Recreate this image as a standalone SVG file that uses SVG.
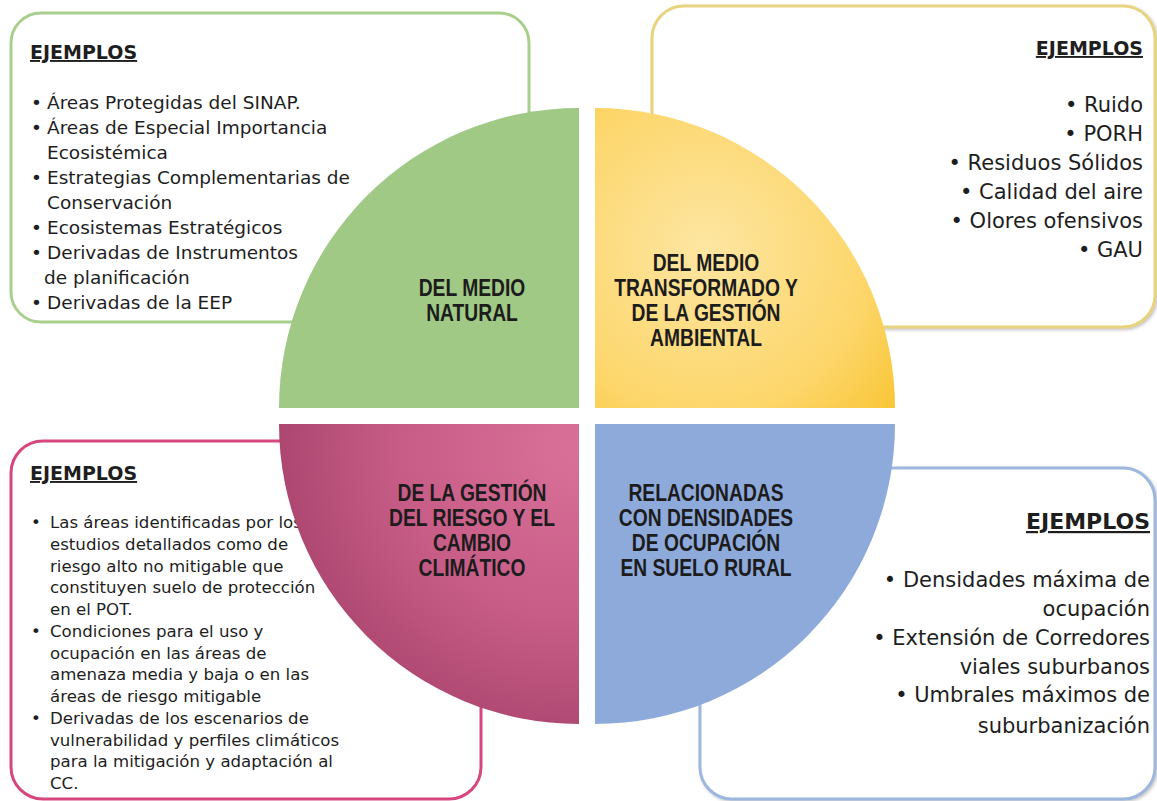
<svg xmlns="http://www.w3.org/2000/svg" width="1157" height="801" viewBox="0 0 1157 801">
  <defs>
    <radialGradient id="gYellow" gradientUnits="userSpaceOnUse" cx="705" cy="250" r="300">
      <stop offset="0" stop-color="#fde6a2"/>
      <stop offset="0.55" stop-color="#fdd66a"/>
      <stop offset="1" stop-color="#f6bb14"/>
    </radialGradient>
    <radialGradient id="gPink" gradientUnits="userSpaceOnUse" cx="570" cy="450" r="340">
      <stop offset="0" stop-color="#d97098"/>
      <stop offset="0.5" stop-color="#c75d86"/>
      <stop offset="1" stop-color="#a23e68"/>
    </radialGradient>
    <filter id="shadow" x="-5%" y="-5%" width="110%" height="110%">
      <feDropShadow dx="1.5" dy="1.5" stdDeviation="1.5" flood-color="#7a7a7a" flood-opacity="0.45"/>
    </filter>
  </defs>
  <style>
    .box { fill: #ffffff; stroke-width: 3; }
    .body { font-family: "DejaVu Sans", "Liberation Sans", sans-serif; fill: #1e1e1e; }
    .head { font-family: "DejaVu Sans", "Liberation Sans", sans-serif; font-weight: bold; fill: #1e1e1e; text-decoration: underline; }
    .quad { font-family: "Liberation Sans", Arial, sans-serif; font-weight: bold; font-size: 23.5px; fill: #1c1c1c; text-anchor: middle; }
    .tl { font-size: 18.5px; }
    .tr { font-size: 21px; text-anchor: end; }
    .bl { font-size: 16.6px; }
    .br { font-size: 21px; text-anchor: end; }
  </style>

  <g id="connectors"/>

  <!-- Example boxes -->
  <g id="box-natural">
    <rect class="box" x="11" y="13" width="518" height="309" rx="30" stroke="#a8d08c"/>
    <text class="head" x="30" y="59" font-size="19">EJEMPLOS</text>
    <g class="body tl">
      <text x="31" y="109">•</text><text x="47" y="109">Áreas Protegidas del SINAP.</text>
      <text x="31" y="134">•</text><text x="47" y="134">Áreas de Especial Importancia</text>
      <text x="47" y="159">Ecosistémica</text>
      <text x="31" y="184">•</text><text x="47" y="184">Estrategias Complementarias de</text>
      <text x="47" y="209">Conservación</text>
      <text x="31" y="234">•</text><text x="47" y="234">Ecosistemas Estratégicos</text>
      <text x="31" y="259">•</text><text x="47" y="259">Derivadas de Instrumentos</text>
      <text x="44" y="284">de planificación</text>
      <text x="31" y="309">•</text><text x="47" y="309">Derivadas de la EEP</text>
    </g>
  </g>

  <g id="box-transformado">
    <rect class="box" x="652" y="6" width="503" height="321" rx="32" stroke="#e8d47e" filter="url(#shadow)"/>
    <text class="head" x="1143" y="55" font-size="19" text-anchor="end">EJEMPLOS</text>
    <g class="body tr">
      <text x="1143" y="112">•  Ruido</text>
      <text x="1143" y="141">•  PORH</text>
      <text x="1143" y="170">•  Residuos Sólidos</text>
      <text x="1143" y="199">•  Calidad del aire</text>
      <text x="1143" y="228">•  Olores ofensivos</text>
      <text x="1143" y="257">•  GAU</text>
    </g>
  </g>

  <g id="box-riesgo">
    <rect class="box" x="11" y="441" width="470" height="358" rx="32" stroke="#d6477f"/>
    <text class="head" x="30" y="480" font-size="19">EJEMPLOS</text>
    <g class="body bl">
      <text x="31" y="528">•</text><text x="50" y="528">Las áreas identificadas por los</text>
      <text x="50" y="550">estudios detallados como de</text>
      <text x="50" y="571.5">riesgo alto no mitigable que</text>
      <text x="50" y="593">constituyen suelo de protección</text>
      <text x="50" y="615">en el POT.</text>
      <text x="31" y="637">•</text><text x="50" y="637">Condiciones para el uso y</text>
      <text x="50" y="658.5">ocupación en las áreas de</text>
      <text x="50" y="680">amenaza media y baja o en las</text>
      <text x="50" y="702">áreas de riesgo mitigable</text>
      <text x="31" y="724">•</text><text x="50" y="724">Derivadas de los escenarios de</text>
      <text x="50" y="745.5">vulnerabilidad y perfiles climáticos</text>
      <text x="50" y="767">para la mitigación y adaptación al</text>
      <text x="50" y="789">CC.</text>
    </g>
  </g>

  <g id="box-densidades">
    <rect class="box" x="700" y="468" width="455" height="331" rx="32" stroke="#9db7de" filter="url(#shadow)"/>
    <text class="head" x="1150" y="529" font-size="22" text-anchor="end">EJEMPLOS</text>
    <g class="body br">
      <text x="1150" y="587">•  Densidades máxima de</text>
      <text x="1150" y="616">ocupación</text>
      <text x="1150" y="645">•  Extensión de Corredores</text>
      <text x="1150" y="674">viales suburbanos</text>
      <text x="1150" y="702">•  Umbrales máximos de</text>
      <text x="1150" y="733">suburbanización</text>
    </g>
  </g>

  <!-- Quadrants -->
  <g id="quad-natural">
    <path d="M579,408 L279,408 A300,300 0 0 1 579,108 Z" fill="#a0c985"/>
    <g transform="translate(472,0) scale(0.82,1)">
      <text class="quad" x="0" y="296">DEL MEDIO</text>
      <text class="quad" x="0" y="321">NATURAL</text>
    </g>
  </g>
  <g id="quad-transformado">
    <path d="M595,408 L595,108 A300,300 0 0 1 895,408 Z" fill="url(#gYellow)"/>
    <g transform="translate(706,0) scale(0.82,1)">
      <text class="quad" x="0" y="271">DEL MEDIO</text>
      <text class="quad" x="0" y="296">TRANSFORMADO Y</text>
      <text class="quad" x="0" y="321">DE LA GESTIÓN</text>
      <text class="quad" x="0" y="346">AMBIENTAL</text>
    </g>
  </g>
  <g id="quad-riesgo">
    <path d="M579,424 L579,724 A300,300 0 0 1 279,424 Z" fill="url(#gPink)"/>
    <g transform="translate(472,0) scale(0.82,1)">
      <text class="quad" x="0" y="501">DE LA GESTIÓN</text>
      <text class="quad" x="0" y="526">DEL RIESGO Y EL</text>
      <text class="quad" x="0" y="551">CAMBIO</text>
      <text class="quad" x="0" y="576">CLIMÁTICO</text>
    </g>
  </g>
  <g id="quad-densidades">
    <path d="M595,424 L895,424 A300,300 0 0 1 595,724 Z" fill="#8eaadb"/>
    <g transform="translate(706,0) scale(0.82,1)">
      <text class="quad" x="0" y="501">RELACIONADAS</text>
      <text class="quad" x="0" y="526">CON DENSIDADES</text>
      <text class="quad" x="0" y="551">DE OCUPACIÓN</text>
      <text class="quad" x="0" y="576">EN SUELO RURAL</text>
    </g>
  </g>
</svg>
